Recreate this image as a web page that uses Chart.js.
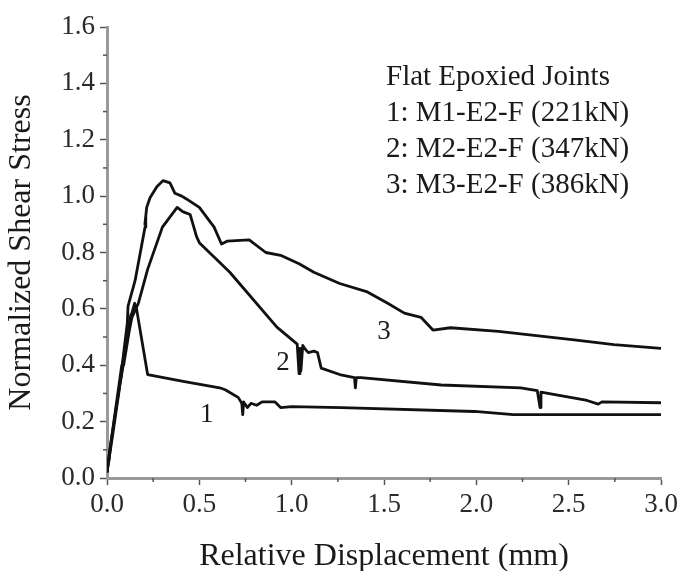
<!DOCTYPE html>
<html>
<head>
<meta charset="utf-8">
<script src="https://cdn.jsdelivr.net/npm/chart.js@4/dist/chart.umd.min.js"></script>
<style>
  body { margin: 0; background: #fff; }
  #wrap { width: 682px; height: 571px; }
</style>
</head>
<body>
<div id="wrap"><canvas id="chart" width="682" height="571"></canvas></div>
<script>
// curve 1: M1-E2-F (221kN)
const disp1 = [0, 0.02, 0.05, 0.09, 0.08, 0.11, 0.10, 0.13, 0.12, 0.15, 0.16, 0.22, 0.42, 0.61, 0.64, 0.71, 0.73, 0.735, 0.74, 0.76, 0.78, 0.81, 0.84, 0.91, 0.94, 1.0, 1.27, 1.99, 2.2, 2.65, 3.0];
const stress1 = [0.02, 0.12, 0.25, 0.42, 0.38, 0.52, 0.47, 0.58, 0.55, 0.62, 0.60, 0.367, 0.342, 0.32, 0.313, 0.286, 0.265, 0.225, 0.27, 0.25, 0.265, 0.258, 0.27, 0.27, 0.25, 0.253, 0.25, 0.236, 0.225, 0.225, 0.225];

// curve 2: M2-E2-F (347kN)
const disp2 = [0, 0.03, 0.07, 0.10, 0.09, 0.12, 0.135, 0.17, 0.22, 0.30, 0.38, 0.41, 0.45, 0.485, 0.50, 0.665, 0.92, 1.03, 1.04, 1.045, 1.05, 1.06, 1.07, 1.09, 1.12, 1.14, 1.16, 1.26, 1.34, 1.345, 1.35, 1.375, 1.81, 2.24, 2.33, 2.345, 2.35, 2.6, 2.66, 2.68, 3.0];
const stress2 = [0.02, 0.15, 0.33, 0.45, 0.40, 0.52, 0.57, 0.62, 0.74, 0.89, 0.96, 0.945, 0.935, 0.856, 0.835, 0.73, 0.535, 0.475, 0.37, 0.46, 0.38, 0.47, 0.46, 0.445, 0.45, 0.445, 0.39, 0.367, 0.356, 0.32, 0.356, 0.356, 0.33, 0.32, 0.31, 0.25, 0.305, 0.275, 0.262, 0.27, 0.267];

// curve 3: M3-E2-F (386kN)
const disp3 = [0, 0.015, 0.01, 0.02, 0.05, 0.08, 0.075, 0.11, 0.114, 0.152, 0.206, 0.21, 0.205, 0.215, 0.233, 0.27, 0.303, 0.341, 0.368, 0.405, 0.43, 0.50, 0.58, 0.62, 0.65, 0.77, 0.86, 0.94, 1.04, 1.12, 1.26, 1.41, 1.52, 1.61, 1.70, 1.765, 1.86, 2.12, 2.53, 2.745, 3.0];
const stress3 = [0.02, 0.10, 0.06, 0.12, 0.26, 0.40, 0.36, 0.55, 0.61, 0.70, 0.89, 0.93, 0.90, 0.96, 0.994, 1.033, 1.055, 1.047, 1.01, 1.0, 0.99, 0.96, 0.89, 0.83, 0.84, 0.845, 0.80, 0.79, 0.76, 0.73, 0.69, 0.66, 0.62, 0.585, 0.57, 0.525, 0.533, 0.52, 0.49, 0.473, 0.46];

// curve number labels placed next to the lines
const curveLabels = ["1", "2", "3"];
const labelDisp = [0.54, 0.953, 1.50];
const labelStress = [0.225, 0.409, 0.519];

const legendLines = ["Flat Epoxied Joints", "1: M1-E2-F (221kN)", "2: M2-E2-F (347kN)", "3: M3-E2-F (386kN)"];

const xMinor = [0.25, 0.75, 1.25, 1.75, 2.25, 2.75];
const yMinor = [0.1, 0.3, 0.5, 0.7, 0.9, 1.1, 1.3, 1.5];

const toPoints = (xs, ys) => xs.map((x, i) => ({ x: x, y: ys[i] }));

const serif = "'Liberation Serif', 'Times New Roman', serif";

const annotations = {
  id: "annotations",
  afterDraw(chart) {
    const ctx = chart.ctx;
    const xs = chart.scales.x;
    const ys = chart.scales.y;
    const area = chart.chartArea;
    ctx.save();

    // minor ticks
    ctx.strokeStyle = "#555";
    ctx.lineWidth = 1.5;
    xMinor.forEach((v) => {
      const px = xs.getPixelForValue(v);
      ctx.beginPath();
      ctx.moveTo(px, area.bottom);
      ctx.lineTo(px, area.bottom + 4);
      ctx.stroke();
    });
    yMinor.forEach((v) => {
      const py = ys.getPixelForValue(v);
      ctx.beginPath();
      ctx.moveTo(area.left, py);
      ctx.lineTo(area.left - 4, py);
      ctx.stroke();
    });

    // curve numbers
    ctx.fillStyle = "#1a1a1a";
    ctx.font = "27px " + serif;
    ctx.textAlign = "center";
    ctx.textBaseline = "middle";
    curveLabels.forEach((t, i) => {
      ctx.fillText(t, xs.getPixelForValue(labelDisp[i]), ys.getPixelForValue(labelStress[i]));
    });

    // legend text block
    ctx.font = "29px " + serif;
    ctx.textAlign = "left";
    ctx.textBaseline = "alphabetic";
    legendLines.forEach((t, i) => {
      ctx.fillText(t, area.left + 279, area.top + 58 + i * 36);
    });
    ctx.restore();
  },
};

const lineStyle = {
  borderColor: "#111",
  borderWidth: 2.8,
  pointRadius: 0,
  tension: 0,
  fill: false,
  borderJoinStyle: "round",
};

new Chart(document.getElementById("chart"), {
  type: "line",
  data: {
    datasets: [
      { label: "1", data: toPoints(disp1, stress1), ...lineStyle },
      { label: "2", data: toPoints(disp2, stress2), ...lineStyle },
      { label: "3", data: toPoints(disp3, stress3), ...lineStyle },
    ],
  },
  options: {
    responsive: false,
    animation: false,
    layout: { padding: { left: 0, right: 21, top: 27, bottom: 0 } },
    plugins: { legend: { display: false }, tooltip: { enabled: false } },
    scales: {
      x: {
        type: "linear",
        min: 0,
        max: 3,
        afterFit: (s) => { s.height = 93; },
        border: { display: true, color: "#999", width: 3 },
        grid: { drawOnChartArea: false, drawTicks: true, tickLength: 7, tickColor: "#555", tickWidth: 1.5 },
        ticks: {
          stepSize: 0.5,
          padding: 4,
          color: "#2a2a2a",
          font: { family: serif, size: 27 },
          maxRotation: 0,
          callback: (v) => v.toFixed(1),
        },
        title: {
          display: true,
          text: "Relative Displacement (mm)",
          color: "#1a1a1a",
          font: { family: serif, size: 32, lineHeight: 1 },
          padding: { top: 0, bottom: -2 },
        },
      },
      y: {
        min: 0,
        max: 1.6,
        afterFit: (s) => { s.width = 107; },
        border: { display: true, color: "#999", width: 3 },
        grid: { drawOnChartArea: false, drawTicks: true, tickLength: 7, tickColor: "#555", tickWidth: 1.5 },
        ticks: {
          stepSize: 0.2,
          padding: 5,
          color: "#2a2a2a",
          font: { family: serif, size: 27 },
          callback: (v) => v.toFixed(1),
        },
        title: {
          display: true,
          text: "Normalized Shear Stress",
          color: "#1a1a1a",
          font: { family: serif, size: 32, lineHeight: 1 },
          padding: { top: 6, bottom: 0 },
        },
      },
    },
  },
  plugins: [annotations],
});
</script>
</body>
</html>
